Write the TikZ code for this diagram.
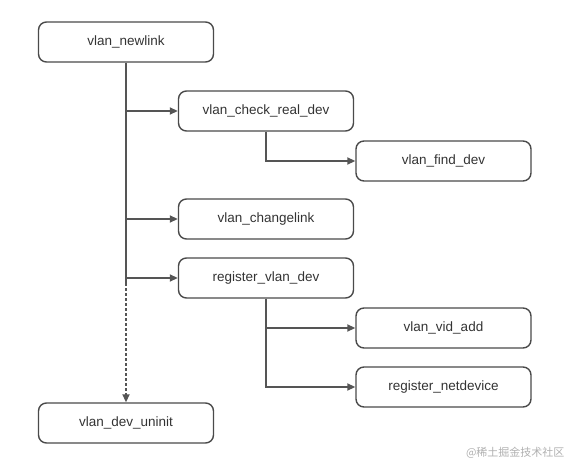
\documentclass[tikz,border=0pt]{standalone}
\usepackage{fontspec}
\setmainfont{Liberation Sans}
\newfontfamily\cjkfont{Noto Sans CJK SC}
\usetikzlibrary{arrows.meta}
\definecolor{boxline}{HTML}{4A4A4A}
\definecolor{txt}{HTML}{333333}
\definecolor{conn}{HTML}{555555}
\definecolor{wm}{HTML}{B0B0B0}
\tikzset{
  fn/.style={draw=boxline, line width=1.4pt, rounded corners=8pt, minimum width=175pt, minimum height=40pt, inner sep=0pt, text=txt, font=\fontsize{13.5}{16}\selectfont},
  conn/.style={draw=conn, line width=1.8pt},
  arr/.style={conn, -{Triangle[length=8pt,width=7pt]}},
  dotarr/.style={arr, dash pattern=on 2.5pt off 2.5pt}
}
\begin{document}
\begin{tikzpicture}[x=1pt,y=-1pt]
\useasboundingbox (0,0) rectangle (580,473);
\node[fn] (newlink) at (126,42) {vlan\_newlink};
\node[fn] (check) at (266,111) {vlan\_check\_real\_dev};
\node[fn] (find) at (443.5,161) {vlan\_find\_dev};
\node[fn] (change) at (266,219) {vlan\_changelink};
\node[fn] (reg) at (266,278) {register\_vlan\_dev};
\node[fn] (vid) at (443.5,328) {vlan\_vid\_add};
\node[fn] (netdev) at (443.5,387) {register\_netdevice};
\node[fn] (uninit) at (126,423) {vlan\_dev\_uninit};
\coordinate (split) at (126,283);
\draw[conn] (newlink.south) -- (split);
\draw[arr] (newlink.south |- check.west) -- (check.west);
\draw[arr] (newlink.south |- change.west) -- (change.west);
\draw[arr] (newlink.south |- reg.west) -- (reg.west);
\draw[dotarr] (split) -- (uninit.north);
\draw[arr] (check.south) |- (find.west);
\draw[arr] (reg.south) |- (vid.west);
\draw[arr] (reg.south) |- (netdev.west);
\node[text=wm, font=\cjkfont\fontsize{11}{13}\selectfont, anchor=east] (wmark) at (568,453) {@稀土掘金技术社区};
\end{tikzpicture}
\end{document}
